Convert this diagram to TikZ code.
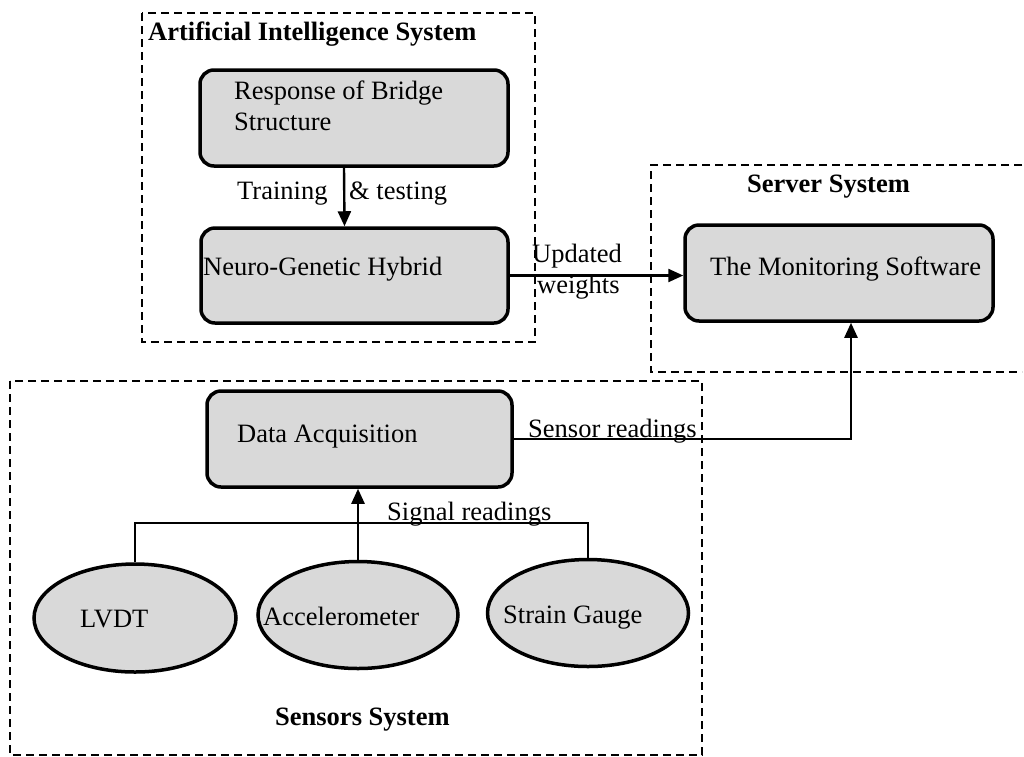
\documentclass[tikz,border=0pt]{standalone}
\usepackage{fontspec}
\setmainfont{Liberation Serif}
\usetikzlibrary{arrows.meta,shapes.geometric}
\tikzset{
    box/.style={draw,line width=3.5pt,rounded corners=14pt,fill=black!15,inner sep=0pt},
    sensor/.style={draw,ellipse,line width=3.5pt,fill=black!15,inner sep=0pt},
    frame/.style={line width=1.4pt,dash pattern=on 8pt off 5pt},
    txt/.style={anchor=base west,inner sep=0pt,font=\fontsize{26.5}{32}\selectfont},
    ttl/.style={txt,font=\fontsize{26.5}{32}\selectfont\bfseries},
    arr/.style={line width=2.4pt,-{Triangle[length=15pt,width=13pt]}},
    bus/.style={line width=1.4pt}
}
\begin{document}
\begin{tikzpicture}[x=1pt,y=-1pt]
    \useasboundingbox (0,0) rectangle (1024,756);
    % dashed system frames
    \draw[frame] (142,13) rectangle (535,342);
    \draw[frame] (1022,165) -- (651,165) -- (651,372) -- (1022,372);
    \draw[frame] (10,381) rectangle (702,755);
    \node[ttl] (ai-t) at (148,40) {Artificial Intelligence System};
    \node[ttl] (srv-t) at (747,192) {Server System};
    \node[ttl] (sns-t) at (275,725) {Sensors System};
    % boxes
    \node[box,minimum width=308pt,minimum height=96pt] (resp) at (354,118) {};
    \node[box,minimum width=307pt,minimum height=95pt] (neuro) at (354.5,275.5) {};
    \node[box,minimum width=308pt,minimum height=96pt] (mon) at (839,273) {};
    \node[box,minimum width=305pt,minimum height=96pt] (daq) at (359.5,439) {};
    \node[txt] (resp-t1) at (234,99) {Response of Bridge};
    \node[txt] (resp-t2) at (234,130) {Structure};
    \node[txt] (neuro-t) at (203,275) {Neuro-Genetic Hybrid};
    \node[txt] (mon-t) at (710,275) {The Monitoring Software};
    \node[txt] (daq-t) at (237,442) {Data Acquisition};
    % sensors
    \node[sensor,minimum width=202pt,minimum height=108pt] (lvdt) at (135,618) {};
    \node[sensor,minimum width=200pt,minimum height=107pt] (acc) at (358,615) {};
    \node[sensor,minimum width=201pt,minimum height=107pt] (sg) at (588,613) {};
    \node[txt] (lvdt-t) at (80,627) {LVDT};
    \node[txt] (acc-t) at (263,625) {Accelerometer};
    \node[txt] (sg-t) at (503,623) {Strain Gauge};
    % connectors
    \draw[arr] ([xshift=-10pt]resp.south) -- ([xshift=-10pt]neuro.north);
    \node[txt] (train-t) at (237,199) {Training};
    \node[txt] (test-t) at (349,199) {\& testing};
    \draw[arr] (neuro.east) -- (neuro.east -| mon.west);
    \node[txt] (upd-t) at (532,262) {Updated};
    \node[txt] (wgt-t) at (537,293) {weights};
    \draw[arr] (daq.east) -| ([xshift=12pt]mon.south);
    \node[txt] (sr-t) at (528,437) {Sensor readings};
    \coordinate (busy) at (0,523);
    \draw[bus] (lvdt.north) |- (busy -| sg.north) -- (sg.north);
    \draw[arr] (acc.north) -- (acc.north |- daq.south);
    \node[txt] (sig-t) at (387,520) {Signal readings};
\end{tikzpicture}
\end{document}
